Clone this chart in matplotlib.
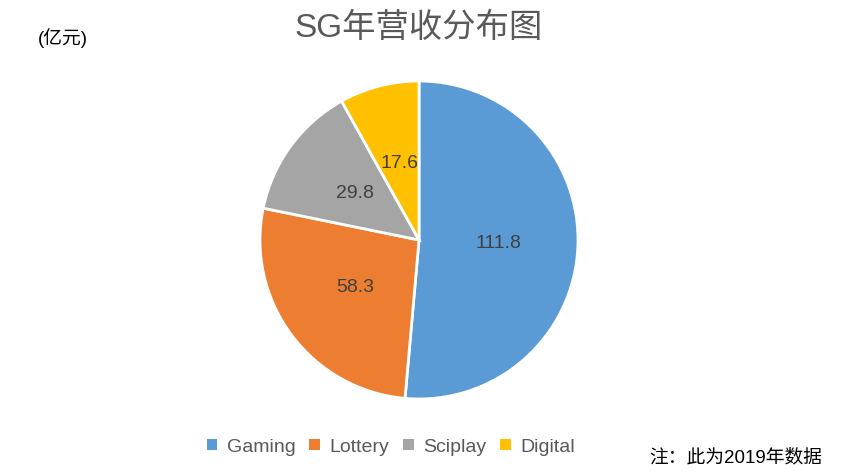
import matplotlib
matplotlib.use("Agg")
import matplotlib.pyplot as plt
from matplotlib.patches import Patch

plt.rcParams['font.family'] = ['Liberation Sans', 'Noto Sans CJK SC', 'DejaVu Sans']

categories = ["Gaming", "Lottery", "Sciplay", "Digital"]
values = [111.8, 58.3, 29.8, 17.6]
colors = ["#5B9BD5", "#ED7D31", "#A5A5A5", "#FFC000"]

W, H = 846, 476
fig = plt.figure(figsize=(W / 100, H / 100), dpi=100)

cx, cy, r = 419, 240, 159
ax = fig.add_axes([(cx - r) / W, 1 - (cy + r) / H, 2 * r / W, 2 * r / H])
ax.pie(values, colors=colors, startangle=90, counterclock=False,
       radius=1, pctdistance=0.5,
       autopct=lambda p: f"{p * sum(values) / 100:.1f}",
       wedgeprops=dict(edgecolor="white", linewidth=2),
       textprops=dict(fontsize=14, color="#404040"))
ax.set_xlim(-1, 1)
ax.set_ylim(-1, 1)
ax.set_aspect("equal")
ax.axis("off")

fig.text(cx / W, 1 - 28 / H, "SG年营收分布图", ha="center", va="center",
         fontsize=24, color="#595959")
fig.text(38 / W, 1 - 38 / H, "(亿元)", ha="left", va="center", fontsize=13.5, color="black")
fig.text(822 / W, 1 - 458 / H, "注：此为2019年数据", ha="right", va="center",
         fontsize=13.5, color="black")

handles = [Patch(facecolor=c, edgecolor="none") for c in colors]
fig.legend(handles, categories, loc="center", bbox_to_anchor=(391 / W, 1 - 447 / H),
           ncol=4, frameon=False, fontsize=14, labelcolor="#595959",
           handlelength=0.55, handleheight=0.55, handletextpad=0.5, columnspacing=0.7)

fig.savefig("out.png", dpi=100)
